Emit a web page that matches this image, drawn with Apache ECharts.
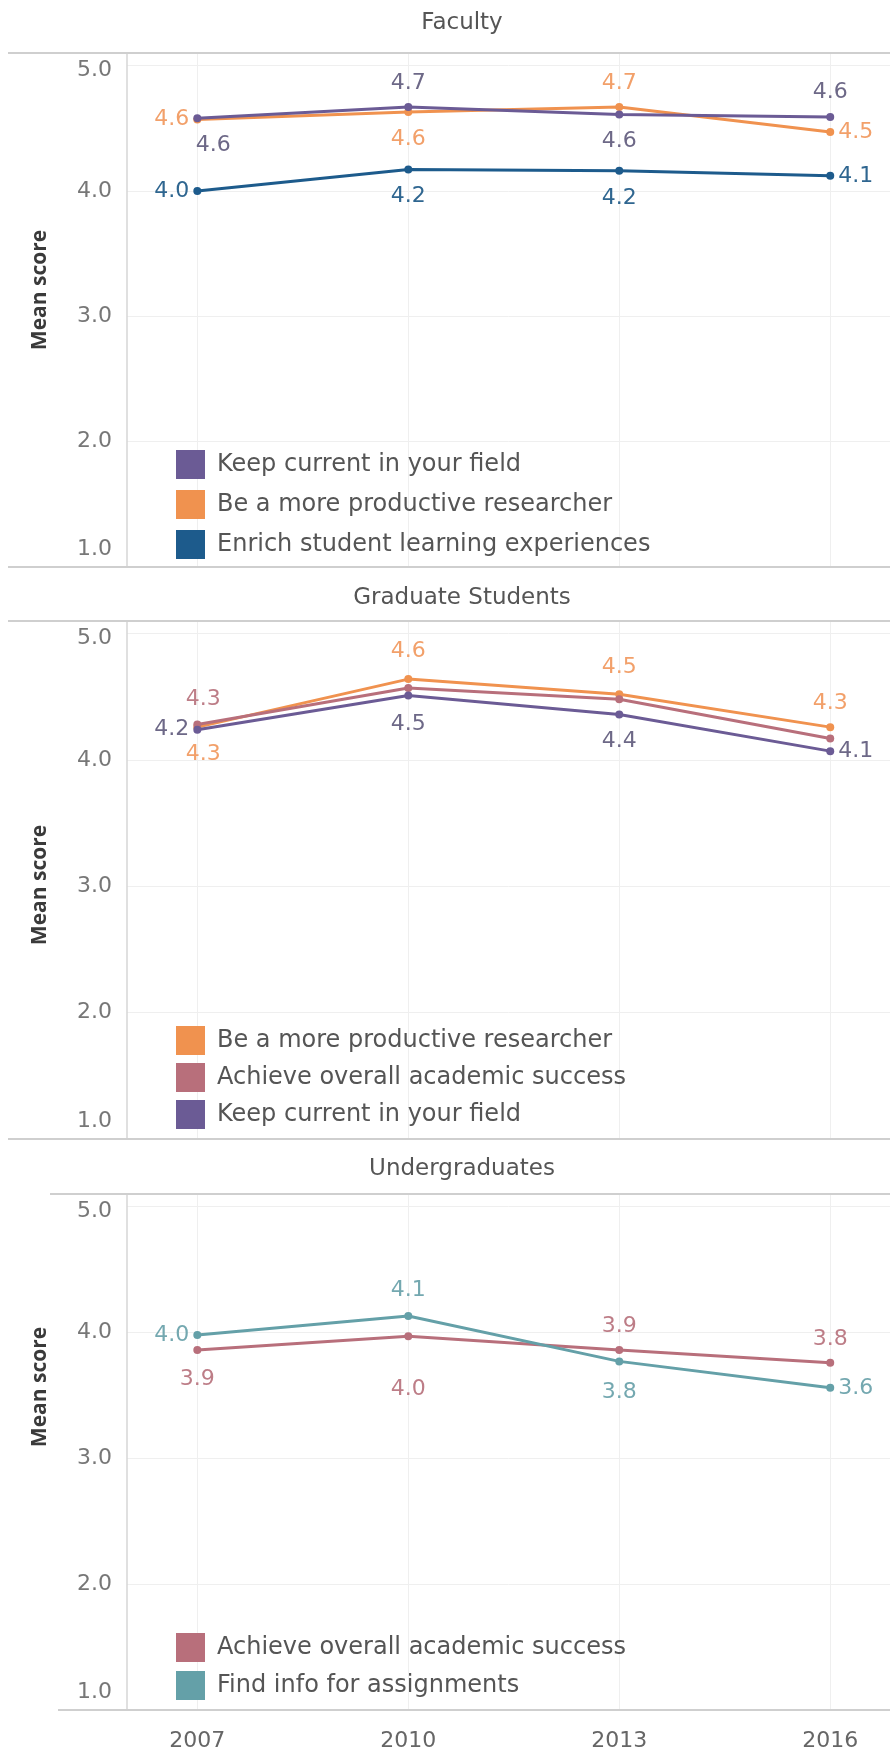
<!DOCTYPE html>
<html>
<head>
<meta charset="utf-8">
<script src="https://cdn.jsdelivr.net/npm/echarts@6/dist/echarts.min.js"></script>
<style>
html,body{margin:0;padding:0;background:#fff;}
#chart{width:890px;height:1754px;}
</style>
</head>
<body>
<div id="chart"></div>
<script>
// ---------- data ----------
const years = [2007, 2010, 2013, 2016];
const panelTitles = ['Faculty', 'Graduate Students', 'Undergraduates'];

// Faculty
const facKeep   = [4.58, 4.67, 4.61, 4.59];
const facProd   = [4.57, 4.63, 4.67, 4.47];
const facEnrich = [4.00, 4.17, 4.16, 4.12];
// Graduate Students
const gradProd    = [4.26, 4.64, 4.52, 4.26];
const gradAchieve = [4.28, 4.57, 4.48, 4.17];
const gradKeep    = [4.24, 4.51, 4.36, 4.07];
// Undergraduates
const ugAchieve = [3.86, 3.97, 3.86, 3.76];
const ugFind    = [3.98, 4.13, 3.77, 3.56];

const KEEP = 'Keep current in your field';
const PROD = 'Be a more productive researcher';
const ENRICH = 'Enrich student learning experiences';
const ACH = 'Achieve overall academic success';
const FIND = 'Find info for assignments';

// ---------- styling ----------
const FONT = '"DejaVu Sans", "Open Sans", sans-serif';
const NAME_FONT = '"Open Sans", "Noto Sans", sans-serif';
const C = {
  keep:   {line: '#6b5b95', label: '#6d6887'},
  prod:   {line: '#f0924f', label: '#f2a06a'},
  enrich: {line: '#1d5b8c', label: '#2f6690'},
  ach:    {line: '#b86f7b', label: '#bd7d87'},
  find:   {line: '#64a0a8', label: '#74a8b0'}
};

const grids = [
  {left: 127, right: 0, top: 53,   height: 514},
  {left: 127, right: 0, top: 621,  height: 518},
  {left: 127, right: 0, top: 1194, height: 516}
];

const TOP_D = 9, BOT_D = 12;

function labelCfg(spec, color) {
  if (!spec) return {show: false};
  const dflt = spec.p === 'top' ? TOP_D : (spec.p === 'bottom' ? BOT_D : 4);
  const o = {show: true, position: spec.p, color: color, fontSize: 22, fontFamily: FONT,
    distance: spec.d != null ? spec.d : dflt,
    formatter: p => p.value[1].toFixed(1)};
  if (spec.o) o.offset = spec.o;
  return o;
}

function mkSeries(name, values, col, gi, labels, z) {
  return {
    type: 'line', name: name, xAxisIndex: gi, yAxisIndex: gi,
    symbol: 'circle', symbolSize: 8, z: z || 2,
    lineStyle: {color: col.line, width: 3},
    itemStyle: {color: col.line},
    emphasis: {disabled: true},
    data: values.map((v, i) => ({value: [years[i], v], label: labelCfg(labels[i], col.label)}))
  };
}

const L = (p, o, d) => ({p: p, o: o, d: d});

const series = [
  // Faculty
  mkSeries(KEEP, facKeep, C.keep, 0, [L('bottom', [16, 0]), L('top'), L('bottom'), L('top', null, 10)], 3),
  mkSeries(PROD, facProd, C.prod, 0, [L('left'), L('bottom'), L('top'), L('right')], 2),
  mkSeries(ENRICH, facEnrich, C.enrich, 0, [L('left'), L('bottom'), L('bottom'), L('right')], 2),
  // Graduate
  mkSeries(PROD, gradProd, C.prod, 1, [L('bottom', [6, 0]), L('top', null, 13), L('top', null, 12), L('top', null, 9)], 2),
  mkSeries(ACH, gradAchieve, C.ach, 1, [L('top', [6, 0], 10), null, null, null], 2),
  mkSeries(KEEP, gradKeep, C.keep, 1, [L('left'), L('bottom', null, 14), L('bottom', null, 12), L('right')], 3),
  // Undergraduates
  mkSeries(ACH, ugAchieve, C.ach, 2, [L('bottom', null, 14), L('bottom', [0, 26]), L('top'), L('top', null, 8)], 2),
  mkSeries(FIND, ugFind, C.find, 2, [L('left'), L('top', null, 11), L('bottom', null, 16), L('right')], 3)
];

// start-padding moves the rotated axis name upward, end-padding downward
const namePad = [[0, 0, 0, 40], [0, 10, 0, 0], [0, 0, 0, 130]];

function yAxisCfg(gi) {
  return {
    type: 'value', gridIndex: gi, min: 1, max: 5.1, interval: 1,
    name: 'Mean score', nameLocation: 'middle', nameGap: 76,
    nameTextStyle: {fontSize: 21, fontWeight: 'bold', color: '#3a3a3a', fontFamily: NAME_FONT,
      padding: namePad[gi]},
    axisLine: {show: true, lineStyle: {color: '#d6d6d6', width: 1.5}},
    axisTick: {show: false},
    splitLine: {show: true, lineStyle: {color: '#efefef', width: 1}},
    axisLabel: {
      showMaxLabel: false, fontSize: 22, color: '#777', fontFamily: FONT, margin: 15,
      formatter: v => v === 1 ? '{lo|1.0}' : (v === 5 ? '{hi|5.0}' : v.toFixed(1)),
      rich: {
        lo: {fontSize: 22, color: '#777', fontFamily: FONT, padding: [0, 0, 36, 0]},
        hi: {fontSize: 22, color: '#777', fontFamily: FONT, padding: [10, 0, 0, 0]}
      }
    }
  };
}

function xAxisCfg(gi, showLabels) {
  return {
    type: 'value', gridIndex: gi, min: 2006, max: 2016.85,
    axisLine: {show: false},
    axisTick: {show: false, customValues: years},
    splitLine: {show: true, lineStyle: {color: '#efefef', width: 1}},
    axisLabel: {show: showLabels, customValues: years, fontSize: 22, color: '#666', fontFamily: FONT, margin: 20,
      formatter: v => String(v)}
  };
}

function legendCfg(names, top, gap) {
  return {
    data: names, orient: 'vertical', left: 176, top: top,
    itemWidth: 29, itemHeight: 29, itemGap: gap, icon: 'rect', padding: 0,
    selectedMode: false,
    textStyle: {fontSize: 24, color: '#555', fontFamily: FONT, padding: [0, 0, 0, 7]}
  };
}

const titleCenters = [22, 597, 1168];

const sepLines = [
  {y: 53, x1: 8}, {y: 567, x1: 8}, {y: 621, x1: 8}, {y: 1139, x1: 8}, {y: 1194, x1: 50}, {y: 1710, x1: 58}
];

const option = {
  animation: false,
  backgroundColor: '#fff',
  title: panelTitles.map((t, i) => ({
    text: t, left: 457, top: titleCenters[i] - 15, textAlign: 'center',
    textStyle: {fontSize: 23, fontWeight: 'normal', color: '#555', fontFamily: FONT}
  })),
  grid: grids,
  xAxis: [xAxisCfg(0, false), xAxisCfg(1, false), xAxisCfg(2, true)],
  yAxis: [yAxisCfg(0), yAxisCfg(1), yAxisCfg(2)],
  legend: [
    legendCfg([KEEP, PROD, ENRICH], 450, 11),
    legendCfg([PROD, ACH, KEEP], 1026, 8),
    legendCfg([ACH, FIND], 1633, 9)
  ],
  graphic: sepLines.map(s => ({
    type: 'line', z: 10, silent: true,
    shape: {x1: s.x1, y1: s.y, x2: 890, y2: s.y},
    style: {stroke: '#cfcfcf', lineWidth: 2}
  })),
  series: series
};

const chart = echarts.init(document.getElementById('chart'), null, {renderer: 'canvas'});
chart.setOption(option);
</script>
</body>
</html>
